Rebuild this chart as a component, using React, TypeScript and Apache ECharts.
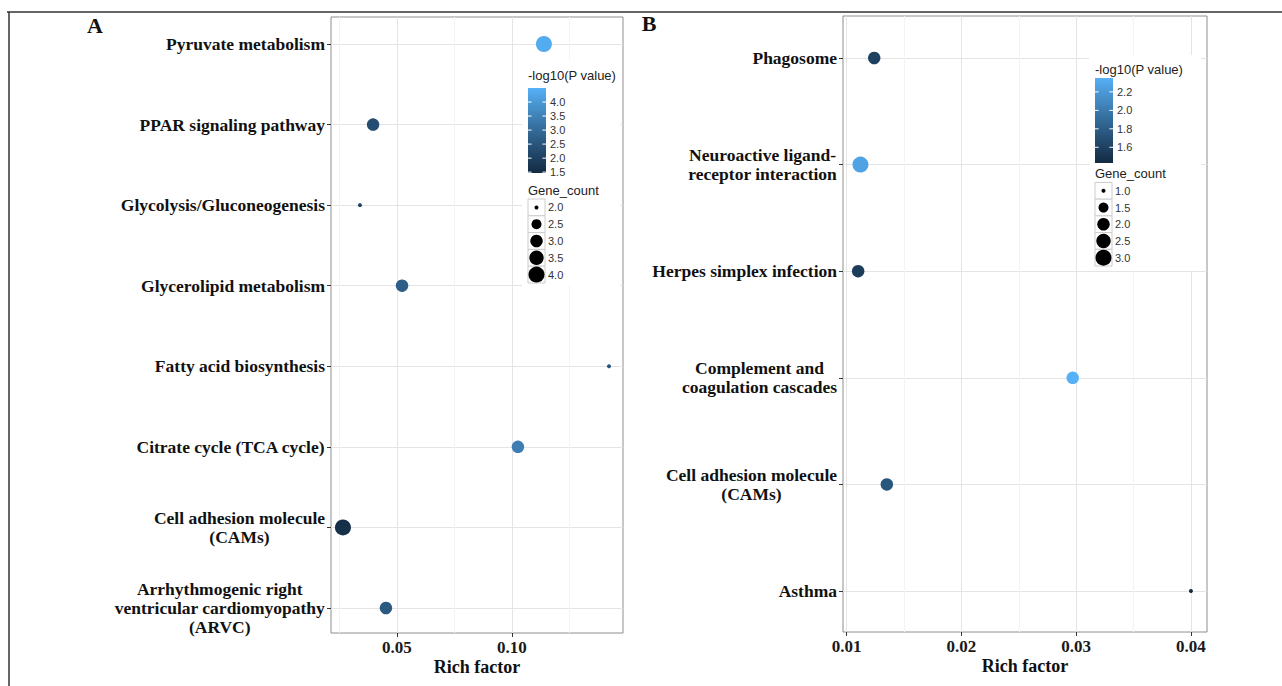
import React, { useEffect, useRef } from 'react';
import * as echarts from 'echarts';

// ---------------- data ----------------
const categoriesA = [
  'Pyruvate metabolism',
  'PPAR signaling pathway',
  'Glycolysis/Gluconeogenesis',
  'Glycerolipid metabolism',
  'Fatty acid biosynthesis',
  'Citrate cycle (TCA cycle)',
  'Cell adhesion molecule\n(CAMs)',
  'Arrhythmogenic right\nventricular cardiomyopathy\n(ARVC)',
];
const richFactorA = [0.1139, 0.0396, 0.0339, 0.0522, 0.1422, 0.1026, 0.0265, 0.0452];
const geneCountA = [4, 3, 2, 3, 2, 3, 4, 3];
const log10PA = [4.4, 2.3, 2.0, 2.7, 2.5, 3.4, 1.6, 2.6];

const categoriesB = [
  'Phagosome',
  'Neuroactive ligand-\nreceptor interaction',
  'Herpes simplex infection',
  'Complement and\ncoagulation cascades',
  'Cell adhesion molecule\n(CAMs)',
  'Asthma',
];
const richFactorB = [0.0124, 0.0112, 0.011, 0.0297, 0.0135, 0.04];
const geneCountB = [2, 3, 2, 2, 2, 1];
const log10PB = [1.6, 2.26, 1.56, 2.35, 1.75, 1.43];

const xRangeA = [0.0213, 0.1483];
const xRangeB = [0.00968, 0.0414];
const xTicksA = [0.05, 0.1];
const xMinorA = [0.025, 0.075, 0.125];
const xTicksB = [0.01, 0.02, 0.03, 0.04];
const xMinorB = [0.015, 0.025, 0.035];
const pRangeA = [1.47, 4.5];
const pRangeB = [1.43, 2.35];
const colorTicksA = [1.5, 2.0, 2.5, 3.0, 3.5, 4.0];
const colorTicksB = [1.6, 1.8, 2.0, 2.2];
const sizeKeysA = [2.0, 2.5, 3.0, 3.5, 4.0];
const sizeKeysB = [1.0, 1.5, 2.0, 2.5, 3.0];
const countRangeA = [2, 4];
const countRangeB = [1, 3];

// ---------------- styling helpers ----------------
const LOW = '#132B43';
const HIGH = '#56B1F7';
const SERIF = '"Liberation Serif", "Times New Roman", serif';
const SANS = '"Liberation Sans", Arial, sans-serif';

function hexToRgb(h: string) {
  const n = parseInt(h.slice(1), 16);
  return [(n >> 16) & 255, (n >> 8) & 255, n & 255];
}
function lin(c: number) {
  c /= 255;
  return c <= 0.04045 ? c / 12.92 : Math.pow((c + 0.055) / 1.055, 2.4);
}
function delin(c: number) {
  const v = c <= 0.0031308 ? 12.92 * c : 1.055 * Math.pow(c, 1 / 2.4) - 0.055;
  return Math.max(0, Math.min(255, Math.round(v * 255)));
}
function toLab(hex: string) {
  const [r, g, b] = hexToRgb(hex).map(lin);
  const X = (0.4124 * r + 0.3576 * g + 0.1805 * b) / 0.95047;
  const Y = 0.2126 * r + 0.7152 * g + 0.0722 * b;
  const Z = (0.0193 * r + 0.1192 * g + 0.9505 * b) / 1.08883;
  const f = (t: number) => (t > 0.008856 ? Math.cbrt(t) : 7.787 * t + 16 / 116);
  return [116 * f(Y) - 16, 500 * (f(X) - f(Y)), 200 * (f(Y) - f(Z))];
}
function fromLab([L, a, b]: number[]) {
  const fy = (L + 16) / 116;
  const fx = fy + a / 500;
  const fz = fy - b / 200;
  const inv = (t: number) => (t * t * t > 0.008856 ? t * t * t : (t - 16 / 116) / 7.787);
  const X = inv(fx) * 0.95047;
  const Y = inv(fy);
  const Z = inv(fz) * 1.08883;
  const r = 3.2406 * X - 1.5372 * Y - 0.4986 * Z;
  const g = -0.9689 * X + 1.8758 * Y + 0.0415 * Z;
  const bb = 0.0557 * X - 0.204 * Y + 1.057 * Z;
  return '#' + [r, g, bb].map((c) => delin(c).toString(16).padStart(2, '0')).join('');
}
const labLow = toLab(LOW);
const labHigh = toLab(HIGH);
const rampColors: string[] = [];
for (let i = 0; i <= 10; i++) {
  const t = i / 10;
  rampColors.push(fromLab(labLow.map((v, k) => v + (labHigh[k] - v) * t)));
}

function sizeFn(range: number[]) {
  return (c: number) => 4 + 12 * Math.sqrt((c - range[0]) / (range[1] - range[0]));
}

const labelFormatter = (v: string) =>
  String(v)
    .split('\n')
    .map((l) => `{c|${l}}`)
    .join('\n');

// ---------------- layout ----------------
const layoutA = {
  left: 331, right: 623, top: 17, bottom: 633, catTop: 44, catBottom: 608,
  lg: { boxX: 522, boxY: 60, boxW: 98, boxH: 226, x: 528, titleY: 75, barTop: 88, barBottom: 173, sizeTitleY: 190, keyTop: 199, keyH: 16.8 },
};
const layoutB = {
  left: 843, right: 1207, top: 16, bottom: 632, catTop: 58, catBottom: 591,
  lg: { boxX: 1089, boxY: 55, boxW: 112, boxH: 216, x: 1095, titleY: 69, barTop: 78, barBottom: 163, sizeTitleY: 173, keyTop: 182.5, keyH: 16.7 },
};

function buildPanel(
  gi: number,
  L: any,
  cats: string[],
  xRange: number[],
  xTicks: number[],
  xMinor: number[],
) {
  const grids = [
    { left: L.left, top: L.catTop, width: L.right - L.left, height: L.catBottom - L.catTop, outerBoundsMode: 'none' },
    { left: L.left, top: L.top, width: L.right - L.left, height: L.bottom - L.top, show: true, borderColor: '#8e8e8e', borderWidth: 1, backgroundColor: 'transparent', outerBoundsMode: 'none' },
    { left: L.left, top: L.top, width: L.right - L.left, height: L.bottom - L.top, outerBoundsMode: 'none' },
  ];
  const xAxes = [
    { type: 'value', gridIndex: gi, min: xRange[0], max: xRange[1], show: false },
    {
      type: 'value', gridIndex: gi + 1, min: xRange[0], max: xRange[1],
      axisLine: { show: false },
      axisTick: { show: true, length: 4, customValues: xTicks, lineStyle: { color: '#333' } },
      axisLabel: {
        customValues: xTicks, formatter: (v: number) => v.toFixed(2), margin: 6,
        fontFamily: SERIF, fontWeight: 'bold', fontSize: 17, lineHeight: 17, color: '#1a1a1a',
      },
      splitLine: { show: true, lineStyle: { color: '#e4e4e4', width: 1 } },
      name: 'Rich factor', nameLocation: 'middle', nameGap: 25, nameMoveOverlap: false,
      nameTextStyle: { fontFamily: SERIF, fontWeight: 'bold', fontSize: 18, lineHeight: 18, color: '#111' },
    },
    {
      type: 'value', gridIndex: gi + 2, min: xRange[0], max: xRange[1],
      axisLine: { show: false },
      axisTick: { show: false, customValues: xMinor },
      axisLabel: { show: false, customValues: xMinor },
      splitLine: { show: true, lineStyle: { color: '#f3f3f3', width: 1 } },
    },
  ];
  const yAxes = [
    {
      type: 'category', gridIndex: gi, data: cats, inverse: true, boundaryGap: false,
      axisLine: { show: false },
      axisTick: { show: true, length: 4, interval: 0, lineStyle: { color: '#333' } },
      axisLabel: {
        interval: 0, margin: 6, formatter: labelFormatter,
        rich: { c: { fontFamily: SERIF, fontWeight: 'bold', fontSize: 17.5, lineHeight: 19, color: '#111', align: 'center' } },
      },
      splitLine: { show: true, interval: 0, lineStyle: { color: '#e4e4e4', width: 1 } },
    },
    { type: 'value', gridIndex: gi + 1, show: false },
    { type: 'value', gridIndex: gi + 2, show: false },
  ];
  return { grids, xAxes, yAxes };
}

function legendGraphics(L: any, pRange: number[], colorTicks: number[], sizeKeys: number[], countRange: number[]) {
  const g = L.lg;
  const els: any[] = [];
  const sz = sizeFn(countRange);
  els.push({ type: 'rect', z: 10, shape: { x: g.boxX, y: g.boxY, width: g.boxW, height: g.boxH }, style: { fill: '#fff' } });
  els.push({ type: 'text', z: 11, x: g.x, y: g.titleY, style: { text: '-log10(P value)', fontFamily: SANS, fontSize: 13, fill: '#222', verticalAlign: 'middle' } });
  const stops = rampColors.map((c, i) => ({ offset: 1 - i / 10, color: c }));
  els.push({
    type: 'rect', z: 11, shape: { x: g.x, y: g.barTop, width: 18, height: g.barBottom - g.barTop },
    style: { fill: new echarts.graphic.LinearGradient(0, 0, 0, 1, stops.reverse()) },
  });
  colorTicks.forEach((v) => {
    const y = g.barBottom - ((v - pRange[0]) / (pRange[1] - pRange[0])) * (g.barBottom - g.barTop);
    els.push({ type: 'line', z: 12, shape: { x1: g.x, y1: y, x2: g.x + 3.6, y2: y }, style: { stroke: '#fff', lineWidth: 1 } });
    els.push({ type: 'line', z: 12, shape: { x1: g.x + 14.4, y1: y, x2: g.x + 18, y2: y }, style: { stroke: '#fff', lineWidth: 1 } });
    els.push({ type: 'text', z: 12, x: g.x + 22, y, style: { text: v.toFixed(1), fontFamily: SANS, fontSize: 11, fill: '#333', verticalAlign: 'middle' } });
  });
  els.push({ type: 'text', z: 11, x: g.x, y: g.sizeTitleY, style: { text: 'Gene_count', fontFamily: SANS, fontSize: 13, fill: '#222', verticalAlign: 'middle' } });
  sizeKeys.forEach((v, i) => {
    const y0 = g.keyTop + i * g.keyH;
    els.push({ type: 'rect', z: 11, shape: { x: g.x, y: y0, width: 17, height: g.keyH }, style: { fill: '#fff', stroke: '#cccccc', lineWidth: 1 } });
    els.push({ type: 'circle', z: 12, shape: { cx: g.x + 8.5, cy: y0 + g.keyH / 2, r: sz(v) / 2 }, style: { fill: '#000' } });
    els.push({ type: 'text', z: 12, x: g.x + 20, y: y0 + g.keyH / 2, style: { text: v.toFixed(1), fontFamily: SANS, fontSize: 11, fill: '#333', verticalAlign: 'middle' } });
  });
  return els;
}

export default function App() {
  const ref = useRef<HTMLDivElement>(null);
  useEffect(() => {
    if (!ref.current) return;
    const chart = echarts.init(ref.current, undefined, { renderer: 'svg' });
    const pa = buildPanel(0, layoutA, categoriesA, xRangeA, xTicksA, xMinorA);
    const pb = buildPanel(3, layoutB, categoriesB, xRangeB, xTicksB, xMinorB);
    const sizeA = sizeFn(countRangeA);
    const sizeB = sizeFn(countRangeB);
    const graphics: any[] = [
      { type: 'line', z: 20, shape: { x1: 7, y1: 12, x2: 1282, y2: 12 }, style: { stroke: '#666', lineWidth: 2 } },
      { type: 'line', z: 20, shape: { x1: 9, y1: 12, x2: 9, y2: 686 }, style: { stroke: '#333', lineWidth: 1.5 } },
      { type: 'text', z: 20, x: 95, y: 25, style: { text: 'A', fontFamily: SERIF, fontWeight: 'bold', fontSize: 22, fill: '#111', align: 'center', verticalAlign: 'middle' } },
      { type: 'text', z: 20, x: 649, y: 23, style: { text: 'B', fontFamily: SERIF, fontWeight: 'bold', fontSize: 22, fill: '#111', align: 'center', verticalAlign: 'middle' } },
      ...legendGraphics(layoutA, pRangeA, colorTicksA, sizeKeysA, countRangeA),
      ...legendGraphics(layoutB, pRangeB, colorTicksB, sizeKeysB, countRangeB),
    ];
    chart.setOption({
      animation: false,
      backgroundColor: '#fff',
      grid: [...pa.grids, ...pb.grids],
      xAxis: [...pa.xAxes, ...pb.xAxes],
      yAxis: [...pa.yAxes, ...pb.yAxes],
      visualMap: [
        { type: 'continuous', show: false, seriesIndex: 0, dimension: 2, min: pRangeA[0], max: pRangeA[1], inRange: { color: rampColors } },
        { type: 'continuous', show: false, seriesIndex: 1, dimension: 2, min: pRangeB[0], max: pRangeB[1], inRange: { color: rampColors } },
      ],
      series: [
        {
          type: 'scatter', xAxisIndex: 0, yAxisIndex: 0, z: 5,
          data: richFactorA.map((x, i) => [x, i, log10PA[i], geneCountA[i]]),
          symbolSize: (v: number[]) => sizeA(v[3]),
          itemStyle: { opacity: 1 },
        },
        {
          type: 'scatter', xAxisIndex: 3, yAxisIndex: 3, z: 5,
          data: richFactorB.map((x, i) => [x, i, log10PB[i], geneCountB[i]]),
          symbolSize: (v: number[]) => sizeB(v[3]),
          itemStyle: { opacity: 1 },
        },
      ],
      graphic: graphics,
    });
    return () => chart.dispose();
  }, []);
  return <div ref={ref} style={{ position: 'fixed', left: 0, top: 0, width: 1282, height: 686 }} />;
}
